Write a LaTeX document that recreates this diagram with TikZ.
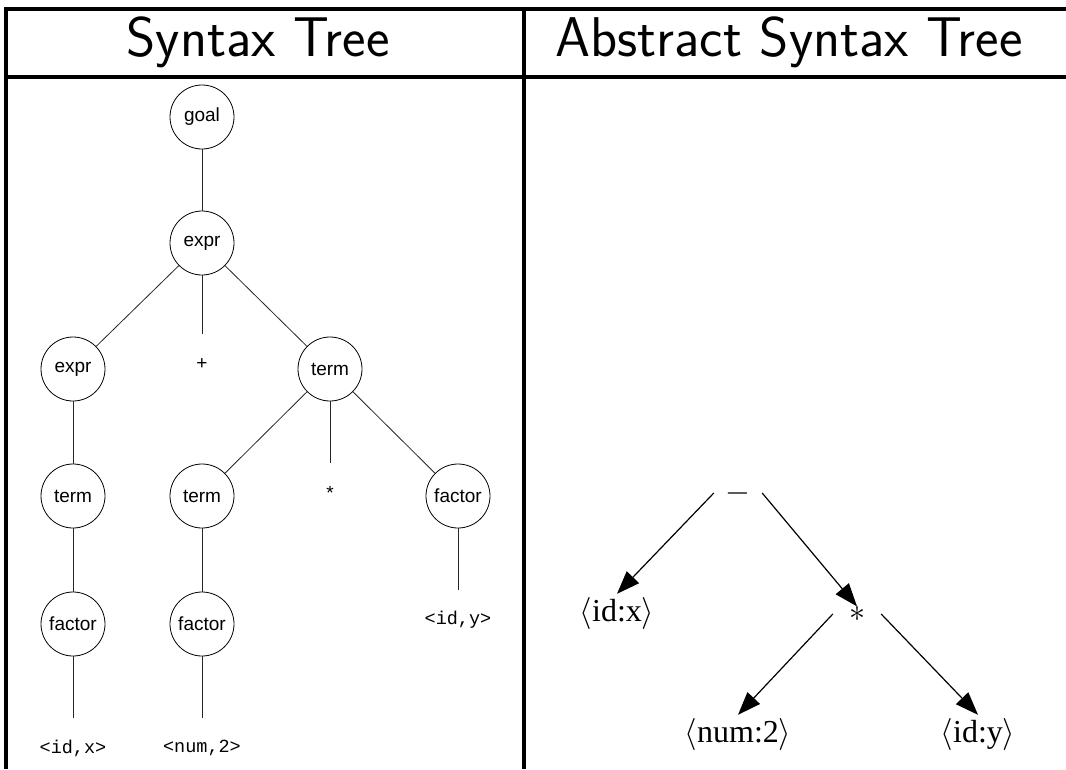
\RequirePackage{fix-cm}
\documentclass[tikz,border=0pt]{standalone}
\usepackage{fontspec}
\usetikzlibrary{arrows.meta}
\newfontfamily\helv{Liberation Sans}
\newfontfamily\cour{Liberation Mono}
\newfontfamily\tms{Liberation Serif}

\tikzset{
  ptnode/.style={circle, draw, line width=0.8pt, minimum size=64pt, inner sep=0pt,
    font=\helv\fontsize{19}{21}\selectfont},
  toknode/.style={rectangle, minimum height=60pt, inner sep=0pt,
    font=\helv\fontsize{19}{21}\selectfont},
  ttnode/.style={toknode, font=\cour\fontsize{18.5}{20}\selectfont},
  ptedge/.style={line width=0.8pt, draw=black!85},
  astnode/.style={inner sep=3pt, font=\tms\fontsize{32}{36}\selectfont},
  opnode/.style={minimum width=48pt, inner sep=0pt, font=\fontsize{32}{36}\selectfont},
  astedge/.style={line width=1.2pt, -{Triangle[length=23pt,width=17pt]}},
  rule/.style={line width=3.5pt},
  header/.style={anchor=base, font=\sffamily\fontsize{56}{64}\selectfont}
}

\begin{document}
\begin{tikzpicture}[x=1pt,y=-1pt]
\useasboundingbox (0,0) rectangle (1066,769);

% table frame
\draw[rule] (1066,9) -- (6,9) -- (6,769);
\draw[rule] (6,77) -- (1066,77);
\draw[rule] (524,9) -- (524,769);
\node[header] (hpt) at (258,56) {Syntax Tree};
\node[header] (hast) at (789,56) {Abstract Syntax Tree};

% syntax tree
\node[ptnode] (goal) at (202,117) {goal};
\node[ptnode] (expr) at (202,243) {expr};
\node[ptnode] (expr2) at (73,369) {expr};
\node[toknode] (plus) at (202,364) {+};
\node[ptnode] (term) at (330,369) {term};
\node[ptnode] (term2) at (73,496) {term};
\node[ptnode] (term3) at (202,496) {term};
\node[toknode] (times) at (330,493) {*};
\node[ptnode] (fac3) at (458,496) {factor};
\node[ptnode] (fac1) at (73,624) {factor};
\node[ptnode] (fac2) at (202,624) {factor};
\node[ttnode] (idy) at (458,620) {<id,y>};
\node[ttnode] (idx) at (73,748) {<id,x>};
\node[ttnode] (num) at (202,748) {<num,2>};

\draw[ptedge] (goal) -- (expr);
\draw[ptedge] (expr) -- (expr2);
\draw[ptedge] (expr) -- (plus.north);
\draw[ptedge] (expr) -- (term);
\draw[ptedge] (expr2) -- (term2);
\draw[ptedge] (term) -- (term3);
\draw[ptedge] (term) -- (times.north);
\draw[ptedge] (term) -- (fac3);
\draw[ptedge] (term2) -- (fac1);
\draw[ptedge] (term3) -- (fac2);
\draw[ptedge] (fac3) -- (idy.north);
\draw[ptedge] (fac1) -- (idx.north);
\draw[ptedge] (fac2) -- (num.north);

% abstract syntax tree
\node[opnode] (minus) at (738,493) {$-$};
\node[astnode] (aidx) at (617,613) {$\langle$id:x$\rangle$};
\node[opnode] (star) at (857,614) {$*$};
\node[astnode] (anum) at (738,734) {$\langle$num:2$\rangle$};
\node[astnode] (aidy) at (978,734) {$\langle$id:y$\rangle$};

\draw[astedge] (minus.west) -- (aidx.north);
\draw[astedge] (minus.east) -- (star.north);
\draw[astedge] (star.west) -- (anum.north);
\draw[astedge] (star.east) -- (aidy.north);
\end{tikzpicture}
\end{document}
